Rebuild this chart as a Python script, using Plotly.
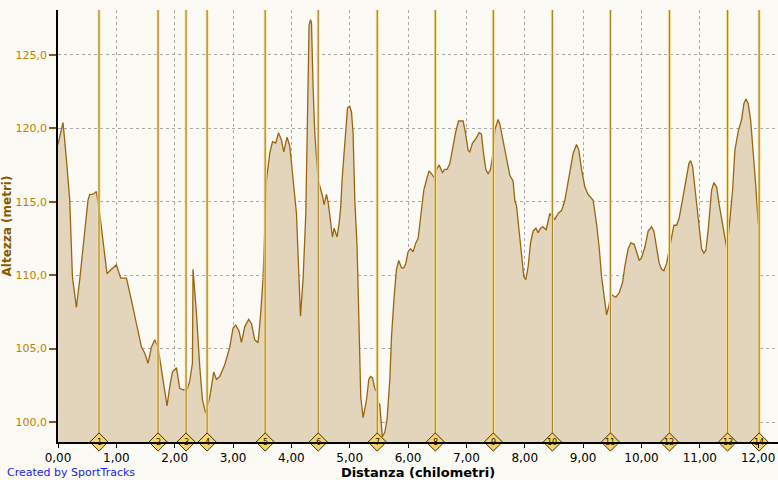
import plotly.graph_objects as go

# elevation profile: distance (km) and altitude (m)
distance_km = [
    0.000, 0.086, 0.144, 0.201, 0.247, 0.315, 0.372, 0.429, 0.514, 0.543,
    0.590, 0.629, 0.658, 0.715, 0.771, 0.840, 0.915, 1.001, 1.075, 1.173,
    1.258, 1.344, 1.430, 1.486, 1.543, 1.601, 1.658, 1.714, 1.800, 1.869,
    1.915, 1.961, 2.030, 2.086, 2.143, 2.212, 2.258, 2.304, 2.314, 2.373,
    2.429, 2.476, 2.532, 2.601, 2.669, 2.716, 2.772, 2.858, 2.944, 3.000,
    3.046, 3.103, 3.144, 3.201, 3.269, 3.316, 3.372, 3.429, 3.470, 3.514,
    3.573, 3.629, 3.676, 3.732, 3.779, 3.830, 3.869, 3.926, 3.972, 4.058,
    4.087, 4.156, 4.200, 4.247, 4.286, 4.303, 4.327, 4.344, 4.372, 4.401,
    4.457, 4.487, 4.533, 4.560, 4.601, 4.629, 4.670, 4.704, 4.732, 4.783,
    4.817, 4.847, 4.869, 4.927, 4.962, 5.001, 5.030, 5.057, 5.087, 5.126,
    5.160, 5.189, 5.229, 5.287, 5.327, 5.356, 5.390, 5.430, 5.469, 5.486,
    5.515, 5.532, 5.558, 5.601, 5.640, 5.687, 5.716, 5.760, 5.801, 5.841,
    5.887, 5.927, 5.961, 6.000, 6.042, 6.086, 6.132, 6.172, 6.201, 6.247,
    6.270, 6.316, 6.360, 6.402, 6.458, 6.487, 6.532, 6.590, 6.629, 6.669,
    6.715, 6.772, 6.813, 6.864, 6.943, 6.984, 7.029, 7.058, 7.104, 7.161,
    7.218, 7.259, 7.286, 7.333, 7.372, 7.413, 7.447, 7.487, 7.543, 7.572,
    7.629, 7.687, 7.744, 7.800, 7.829, 7.859, 7.903, 7.945, 7.984, 8.018,
    8.058, 8.099, 8.143, 8.190, 8.229, 8.270, 8.310, 8.366, 8.430, 8.469,
    8.515, 8.572, 8.630, 8.687, 8.716, 8.773, 8.829, 8.887, 8.927, 8.973,
    9.030, 9.086, 9.172, 9.230, 9.275, 9.316, 9.361, 9.402, 9.441, 9.475,
    9.515, 9.561, 9.618, 9.676, 9.715, 9.772, 9.818, 9.875, 9.916, 9.961,
    10.002, 10.058, 10.115, 10.173, 10.213, 10.259, 10.304, 10.345, 10.384, 10.430,
    10.475, 10.516, 10.556, 10.602, 10.647, 10.688, 10.727, 10.773, 10.813, 10.842,
    10.876, 10.916, 10.945, 10.989, 11.030, 11.070, 11.104, 11.144, 11.173, 11.202,
    11.241, 11.288, 11.332, 11.373, 11.413, 11.459, 11.487, 11.527, 11.562, 11.601,
    11.658, 11.716, 11.756, 11.790, 11.829, 11.870, 11.915, 11.961, 12.000,
]
altitude_m = [
    118.9, 120.4, 117.9, 115.1, 109.9, 107.8, 109.7, 111.9, 115.1, 115.5,
    115.5, 115.6, 115.7, 114.2, 112.4, 110.1, 110.4, 110.7, 109.8, 109.8,
    108.3, 106.7, 105.1, 104.7, 104.0, 105.1, 105.6, 105.1, 102.9, 101.1,
    102.4, 103.4, 103.7, 102.3, 102.2, 102.2, 102.8, 104.0, 110.4, 107.4,
    103.8, 101.5, 100.6, 101.7, 103.4, 102.9, 103.1, 103.9, 105.1, 106.4,
    106.6, 106.2, 105.4, 106.5, 107.0, 106.7, 105.6, 105.4, 107.2, 109.7,
    116.5, 118.3, 119.1, 119.0, 119.7, 119.2, 118.4, 119.4, 118.8, 115.1,
    114.2, 107.2, 109.7, 114.2, 125.3, 127.0, 127.4, 127.2, 122.8, 119.7,
    116.5, 116.1, 115.4, 114.8, 115.5, 115.0, 113.8, 112.6, 113.2, 112.6,
    113.5, 114.7, 116.5, 119.2, 121.4, 121.5, 121.1, 119.7, 115.1, 111.9,
    105.1, 101.7, 100.3, 101.5, 102.9, 103.1, 103.0, 102.3, 102.0, 101.3,
    101.2, 100.2, 99.0, 99.3, 100.2, 102.9, 105.8, 108.5, 110.4, 111.0,
    110.5, 110.5, 110.8, 111.6, 111.8, 111.6, 112.2, 112.5, 113.5, 115.1,
    115.8, 116.5, 117.1, 116.9, 116.6, 117.2, 117.5, 117.0, 117.2, 117.2,
    117.6, 118.8, 119.7, 120.5, 120.5, 119.7, 118.5, 118.4, 119.0, 119.3,
    119.7, 119.6, 118.5, 117.2, 116.9, 117.2, 118.1, 119.9, 120.6, 120.3,
    119.1, 117.8, 116.8, 116.4, 115.1, 114.7, 112.9, 111.0, 109.9, 109.7,
    110.6, 112.2, 113.0, 113.2, 112.9, 113.2, 113.3, 113.1, 114.2, 114.0,
    113.8, 114.2, 114.4, 115.1, 115.8, 117.2, 118.3, 118.9, 118.5, 117.2,
    116.0, 115.5, 115.1, 113.5, 111.9, 109.9, 108.7, 107.3, 107.9, 108.7,
    108.6, 108.5, 108.8, 109.5, 110.6, 111.8, 112.2, 112.1, 111.6, 111.0,
    111.2, 111.9, 113.0, 113.3, 113.0, 111.8, 110.8, 110.4, 110.3, 110.8,
    111.7, 112.5, 113.4, 113.4, 113.9, 114.8, 115.8, 116.7, 117.6, 117.8,
    117.4, 116.0, 114.7, 113.0, 111.8, 111.5, 111.7, 113.1, 114.7, 115.8,
    116.3, 116.0, 114.8, 113.8, 113.1, 111.9, 112.6, 114.2, 115.8, 118.5,
    119.8, 120.6, 121.7, 122.0, 121.7, 120.6, 118.5, 116.0, 113.5,
]

# lap markers
lap_km = [0.703, 1.715, 2.195, 2.556, 3.551, 4.460, 5.472, 6.467, 7.461,
          8.473, 9.468, 10.480, 11.475, 12.017]
lap_labels = [str(i) for i in range(1, 15)]

x_ticks = list(range(0, 13))
x_tick_text = [f"{v},00" for v in x_ticks]
y_ticks = [100, 105, 110, 115, 120, 125]
y_tick_text = [f"{v},0" for v in y_ticks]

bg = '#FBFAF4'
y_min, y_max = 98.64, 128.06

fig = go.Figure()

fig.add_trace(go.Scatter(
    x=distance_km, y=altitude_m,
    mode='lines',
    line=dict(color='#9A6510', width=1.3),
    fill='tozeroy',
    fillcolor='#E3D5BC',
    hoverinfo='skip',
))

# lap lines as traces so the diamonds sit on top of them
lap_x, lap_y = [], []
for km in lap_km:
    lap_x += [km, km, None]
    lap_y += [y_min, y_max, None]
fig.add_trace(go.Scatter(x=lap_x, y=lap_y, mode='lines',
                         line=dict(color='#FAE3A0', width=3), hoverinfo='skip'))
fig.add_trace(go.Scatter(x=lap_x, y=lap_y, mode='lines',
                         line=dict(color='#A8842C', width=1.2), hoverinfo='skip'))

fig.add_trace(go.Scatter(
    x=lap_km, y=[y_min] * len(lap_km),
    mode='markers',
    marker=dict(symbol='diamond', size=14, color='#F6D36A',
                line=dict(color='#3A3000', width=1)),
    cliponaxis=False,
    hoverinfo='skip',
))

# lap numbers inside the diamonds
for km, lab in zip(lap_km, lap_labels):
    fig.add_annotation(
        x=km, y=y_min, text=lab, showarrow=False,
        xanchor='center', yanchor='middle',
        font=dict(size=8, color='#1A1A00', family='DejaVu Sans'),
    )

fig.add_annotation(
    text='Created by SportTracks', xref='paper', yref='paper',
    x=-53 / 720, y=-22 / 432, xanchor='left', yanchor='top',
    showarrow=False, font=dict(size=11, color='#2222EE', family='DejaVu Sans'),
)

fig.update_layout(
    width=778, height=480,
    margin=dict(l=58, r=0, t=10, b=38, autoexpand=False),
    paper_bgcolor=bg,
    plot_bgcolor=bg,
    showlegend=False,
    font=dict(family='DejaVu Sans', size=11, color='#000000'),
    xaxis=dict(
        range=[0, 12.34],
        tickvals=x_ticks, ticktext=x_tick_text,
        ticks='outside', ticklen=4, tickcolor='#000000',
        showline=True, linecolor='#000000', linewidth=1.5,
        showgrid=True, gridcolor='#A8A8A8', griddash='dot', gridwidth=1,
        zeroline=False, automargin=False,
        tickfont=dict(size=12, color='#000000'),
        title=dict(text='<b>Distanza (chilometri)</b>', standoff=0,
                   font=dict(size=13, color='#000000')),
    ),
    yaxis=dict(
        range=[y_min, y_max],
        tickvals=y_ticks, ticktext=y_tick_text,
        ticks='outside', ticklen=7, tickcolor='#8B5A00', tickwidth=1.5,
        showline=True, linecolor='#000000', linewidth=1.5,
        showgrid=True, gridcolor='#A8A8A8', griddash='dot', gridwidth=1,
        zeroline=False, automargin=False,
        tickfont=dict(size=11, color='#C08200'),
        title=dict(text='<b>Altezza (metri)</b>', standoff=2,
                   font=dict(size=12, color='#8B5A00')),
    ),
)

# drop the default page margin so the chart sits at the window's corner
fig.write_html("out.html", config={'displayModeBar': False},
               post_script="document.body.style.margin='0';")
